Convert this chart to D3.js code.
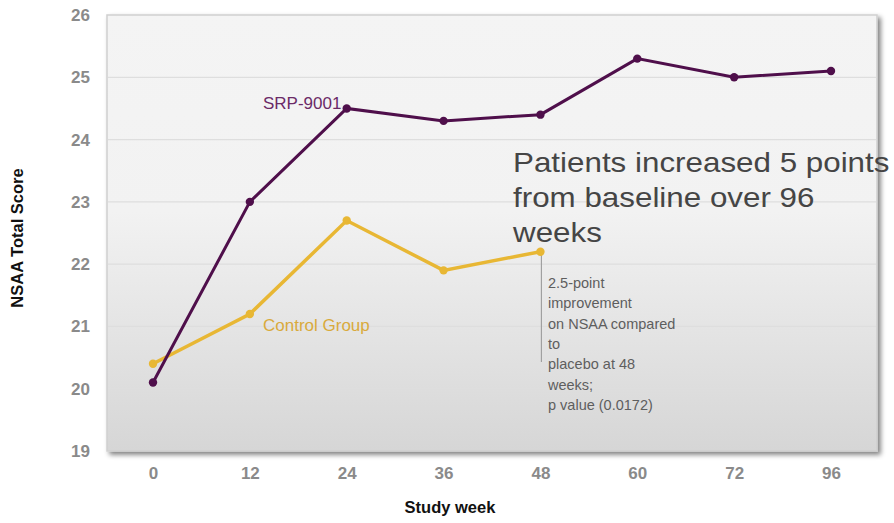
<!DOCTYPE html>
<html><head><meta charset="utf-8">
<script src="https://cdn.jsdelivr.net/npm/d3@7"></script>
<style>body{margin:0;background:#fff;}svg{display:block;font-family:"Liberation Sans",Arial,sans-serif;}</style>
</head><body>
<svg id="c" width="894" height="523"></svg>
<script>
const weeks = ["0","12","24","36","48","60","72","96"];
const srpValues = [20.1, 23.0, 24.5, 24.3, 24.4, 25.3, 25.0, 25.1];
const controlWeeks = ["0","12","24","36","48"];
const controlValues = [20.4, 21.2, 22.7, 21.9, 22.2];
const yTicks = [19,20,21,22,23,24,25,26];
const headline = ["Patients increased 5 points","from baseline over 96","weeks"];
const note = ["2.5-point","improvement","on NSAA compared","to","placebo at 48","weeks;","p value (0.0172)"];

const svg = d3.select("#c");
const L=107, R=877, T=15, B=451;
const x = d3.scalePoint().domain(weeks).range([153, 831]);
const y = d3.scaleLinear().domain([19,26]).range([B, T]);

const defs = svg.append("defs");
const g1 = defs.append("linearGradient").attr("id","bg").attr("x1",0).attr("y1",0).attr("x2",0).attr("y2",1);
g1.append("stop").attr("offset","0%").attr("stop-color","#f4f4f4");
g1.append("stop").attr("offset","45%").attr("stop-color","#f2f2f2");
g1.append("stop").attr("offset","100%").attr("stop-color","#d6d6d6");
const f = defs.append("filter").attr("id","sh").attr("x","-5%").attr("y","-5%").attr("width","110%").attr("height","115%");
f.append("feGaussianBlur").attr("in","SourceAlpha").attr("stdDeviation",2.5);
f.append("feOffset").attr("dx",3).attr("dy",3).attr("result","b");
f.append("feComponentTransfer").append("feFuncA").attr("type","linear").attr("slope",0.5);
const fm = f.append("feMerge"); fm.append("feMergeNode"); fm.append("feMergeNode").attr("in","SourceGraphic");

svg.append("rect").attr("x",L).attr("y",T).attr("width",R-L).attr("height",B-T)
  .attr("fill","url(#bg)").attr("stroke","#cfcfcf").attr("stroke-width",1.5).attr("filter","url(#sh)");

// gridlines
svg.append("g").selectAll("line").data(yTicks.filter(d=>d>19&&d<26)).join("line")
  .attr("x1",L+1).attr("x2",R-1).attr("y1",d=>y(d)).attr("y2",d=>y(d))
  .attr("stroke","#dedede").attr("stroke-width",1.2);

// axes
const ya = svg.append("g").attr("transform",`translate(${L-14},0)`)
  .call(d3.axisLeft(y).tickValues(yTicks).tickSize(0).tickFormat(d3.format("d")));
ya.select(".domain").remove();
ya.selectAll("text").attr("fill","#8a8a8a").attr("font-size",17).attr("font-weight","bold")
  .attr("font-family","Liberation Sans, Arial, sans-serif");
const xa = svg.append("g").attr("transform",`translate(0,${B+13})`)
  .call(d3.axisBottom(x).tickSize(0));
xa.select(".domain").remove();
xa.selectAll("text").attr("fill","#8a8a8a").attr("font-size",17).attr("font-weight","bold")
  .attr("dy","0.71em").attr("font-family","Liberation Sans, Arial, sans-serif");

svg.append("text").attr("transform","translate(23,238) rotate(-90)").attr("text-anchor","middle")
  .attr("font-size",16.5).attr("font-weight","bold").attr("fill","#111").text("NSAA Total Score");
svg.append("text").attr("x",450).attr("y",513).attr("text-anchor","middle")
  .attr("font-size",16.5).attr("font-weight","bold").attr("fill","#111").text("Study week");

const line = d3.line().x(d=>x(d[0])).y(d=>y(d[1]));
const srp = weeks.map((w,i)=>[w,srpValues[i]]);
const ctl = controlWeeks.map((w,i)=>[w,controlValues[i]]);

// annotation line
svg.append("line").attr("x1",x("48")+1).attr("x2",x("48")+1).attr("y1",y(22.2)+2).attr("y2",362)
  .attr("stroke","#a0a0a0").attr("stroke-width",1.2);

svg.append("path").datum(ctl).attr("d",line).attr("fill","none").attr("stroke","#e8b734").attr("stroke-width",3.5);
svg.append("g").selectAll("circle").data(ctl).join("circle").attr("cx",d=>x(d[0])).attr("cy",d=>y(d[1])).attr("r",4.2).attr("fill","#e8b734");
svg.append("path").datum(srp).attr("d",line).attr("fill","none").attr("stroke","#4f0f4b").attr("stroke-width",3);
svg.append("g").selectAll("circle").data(srp).join("circle").attr("cx",d=>x(d[0])).attr("cy",d=>y(d[1])).attr("r",4.2).attr("fill","#4f0f4b");

svg.append("text").attr("x",263).attr("y",109).attr("font-size",17).attr("fill","#6b2a67").text("SRP-9001");
svg.append("text").attr("x",263).attr("y",331).attr("font-size",17).attr("fill","#d9aa3c").text("Control Group");

svg.append("g").attr("transform","translate(513,0) scale(1.12,1)").selectAll("text").data(headline).join("text")
  .attr("x",0).attr("y",(d,i)=>172+i*35).attr("font-size",28).attr("fill","#454545").text(d=>d);
svg.append("g").selectAll("text").data(note).join("text")
  .attr("x",548).attr("y",(d,i)=>288+i*20.3).attr("font-size",14.5).attr("fill","#5e5e5e").text(d=>d);
</script>
</body></html>
